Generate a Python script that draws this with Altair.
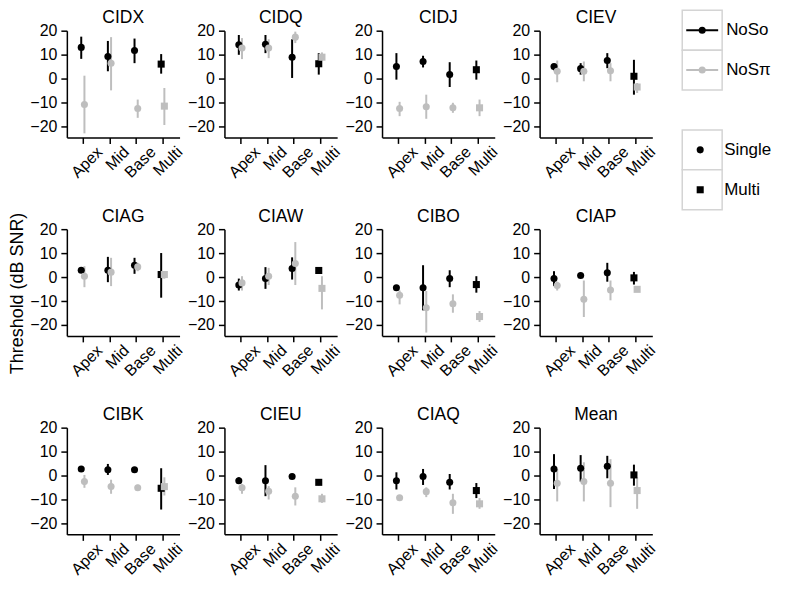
import altair as alt
import pandas as pd

panels = ["CIDX", "CIDQ", "CIDJ", "CIEV", "CIAG", "CIAW", "CIBO", "CIAP",
          "CIBK", "CIEU", "CIAQ", "Mean"]
categories = ["Apex", "Mid", "Base", "Multi"]
series = ["NoSo", "NoSπ"]
type_names = ["Single", "Multi"]
types = ["Single", "Single", "Single", "Multi"]

noso_mean = [[13.1, 9.3, 11.8, 6.1], [14.2, 14.4, 9.0, 6.25], [5.1, 7.2, 1.7, 3.75],
             [5.1, 4.2, 7.6, 1.0], [2.9, 2.9, 5.0, 1.1], [-3.3, -0.6, 3.6, 2.8],
             [-4.4, -4.4, -0.6, -3.1], [-0.6, 0.7, 1.8, -0.3], [2.8, 2.5, 2.5, -5.3],
             [-2.1, -2.1, -0.4, -2.8], [-2.1, -0.4, -2.8, -6.25], [2.8, 3.1, 3.9, 0.3]]
noso_lo = [[8.3, 3.1, 6.5, 2.1], [10.0, 10.7, 0.3, 1.7], [-0.4, 4.7, -3.5, -0.4],
           [3.5, 1.7, 4.4, -6.7], [1.8, -2.1, 1.4, -8.6], [-5.6, -4.9, -1.0, 1.8],
           [-5.6, -13.9, -4.2, -6.5], [-3.75, -0.3, -1.9, -3.1], [1.8, 0.3, 1.5, -14.2],
           [-3.5, -8.6, -1.4, -4.0], [-5.8, -3.9, -5.8, -9.4], [-5.6, -2.5, -1.1, -4.2]]
noso_hi = [[17.6, 15.8, 16.8, 10.3], [18.3, 18.3, 16.5, 10.7], [10.7, 9.6, 6.9, 7.6],
           [5.8, 6.5, 10.7, 7.9], [3.9, 8.5, 8.1, 10.1], [-0.6, 4.2, 8.3, 3.9],
           [-3.3, 5.0, 2.9, 0.4], [2.5, 1.7, 6.0, 2.2], [3.8, 4.9, 3.5, 3.1],
           [-0.7, 4.4, 0.6, -1.6], [1.4, 2.8, 0.7, -3.1], [9.0, 8.6, 8.3, 4.6]]

nospi_mean = [[-10.8, 6.5, -12.5, -11.5], [12.8, 12.8, 17.4, 9.0], [-12.5, -11.8, -12.2, -12.2],
              [3.1, 3.1, 3.3, -3.5], [0.4, 2.1, 4.3, 1.1], [-2.4, 0.4, 5.7, -4.7],
              [-7.6, -12.8, -11.1, -16.5], [-3.5, -9.3, -5.4, -5.1], [-2.5, -4.6, -5.1, -4.6],
              [-5.1, -6.5, -8.6, -9.7], [-9.3, -6.7, -11.4, -11.8], [-3.2, -2.5, -3.2, -6.25]]
nospi_lo = [[-22.9, -4.9, -16.4, -19.4], [8.2, 8.6, 14.9, 7.5], [-15.7, -16.8, -14.3, -15.7],
            [-1.5, -1.1, -1.1, -6.0], [-4.2, -3.75, 2.5, -0.6], [-5.6, -3.3, -3.3, -13.5],
            [-11.4, -23.2, -14.9, -18.75], [-5.6, -16.7, -9.7, -6.0], [-5.1, -7.6, -6.4, -8.3],
            [-7.6, -10.0, -12.5, -11.4], [-10.3, -9.0, -16.0, -13.9], [-10.8, -10.8, -13.2, -13.9]]
nospi_hi = [[1.25, 17.4, -8.75, -3.9], [17.0, 16.5, 19.7, 11.0], [-9.7, -6.7, -10.1, -8.75],
            [7.6, 7.2, 6.5, -1.8], [4.6, 8.1, 6.0, 2.5], [0.4, 3.9, 14.7, 0.4],
            [-5.6, -5.8, -7.2, -14.2], [-1.9, -1.4, -1.4, -4.2], [0.3, -1.7, -3.8, -0.7],
            [-3.5, -4.4, -4.9, -7.6], [-8.3, -4.9, -7.6, -9.4], [2.8, 5.6, 6.9, -0.7]]

rows = []
for s, (m_all, l_all, h_all) in zip(series, [(noso_mean, noso_lo, noso_hi),
                                              (nospi_mean, nospi_lo, nospi_hi)]):
    for p, m, l, h in zip(panels, m_all, l_all, h_all):
        for i, c in enumerate(categories):
            rows.append({"panel": p, "cat": c, "idx": i, "series": s,
                         "type": types[i], "mean": m[i], "lo": l[i], "hi": h[i]})
df = pd.DataFrame(rows)

FONT = "Liberation Sans"
GRAY = "#bebebe"
BOX = "#d4d4d4"

axis_style = dict(grid=False, domainColor="black", domainWidth=1.5, tickColor="black",
                  tickWidth=1.5, tickSize=6, labelColor="black", labelFont=FONT,
                  title=None)

x_enc = alt.X("pos:Q",
              scale=alt.Scale(domain=[-0.6, 3.63], nice=False, zero=False),
              axis=alt.Axis(values=[0, 1, 2, 3],
                            labelExpr="['Apex','Mid','Base','Multi'][datum.value]",
                            labelAngle=315, labelAlign="right", labelBaseline="top",
                            labelOffset=11, labelPadding=0, labelFontSize=16,
                            labelOverlap=False, labelBound=False, **axis_style))
y_scale = alt.Scale(domain=[-24.6, 20.1], nice=False, zero=False)
y_axis = alt.Axis(values=[-20, -10, 0, 10, 20], labelOverlap=False, labelFontSize=16,
                  labelPadding=4,
                  labelExpr="datum.value < 0 ? '\u2212' + abs(datum.value) : '' + datum.value",
                  **axis_style)
color_scale = alt.Scale(domain=series, range=["black", GRAY])
shape_scale = alt.Scale(domain=type_names, range=["circle", "square"])

base = alt.Chart().transform_calculate(
    pos="datum.idx + (datum.series == 'NoSo' ? -0.06 : 0.06)"
)

rules = base.mark_rule(strokeWidth=2).encode(
    x=x_enc,
    y=alt.Y("lo:Q", scale=y_scale, axis=y_axis),
    y2="hi:Q",
    color=alt.Color("series:N", scale=color_scale, sort=series, legend=None),
)

points = base.mark_point(filled=True, opacity=1, size=50).encode(
    x=x_enc,
    y=alt.Y("mean:Q", scale=y_scale, axis=y_axis),
    color=alt.Color("series:N", scale=color_scale, sort=series, legend=None),
    shape=alt.Shape("type:N", scale=shape_scale, legend=None),
)

grid = alt.layer(rules, points, data=df).properties(
    width=113, height=107
).facet(
    facet=alt.Facet("panel:N", sort=panels,
                    header=alt.Header(title=None, labelFontSize=17.5, labelFont=FONT,
                                      labelColor="black", labelPadding=-4)),
    columns=4,
    spacing={"row": 92, "column": 45},
    bounds="flush",
).resolve_axis(
    x="independent", y="independent"
)

# ---- hand-built legends (ggplot-style key boxes) ----
leg_series = pd.DataFrame({"label": series})
leg_types = pd.DataFrame({"label": type_names})
LEG_RANGE = [-20.5, 59.5]

ly1 = alt.Y("label:N", sort=series, axis=None,
            scale=alt.Scale(paddingInner=0, paddingOuter=0, range=LEG_RANGE))
box1 = alt.Chart(leg_series).mark_rect(fill="white", stroke=BOX, strokeWidth=1.5).encode(
    x=alt.value(0), x2=alt.value(40), y=ly1)
line1 = alt.Chart(leg_series).mark_rule(strokeWidth=2).encode(
    x=alt.value(4), x2=alt.value(36), y=ly1,
    color=alt.Color("label:N", scale=color_scale, legend=None))
pt1 = alt.Chart(leg_series).mark_point(filled=True, opacity=1, size=50).encode(
    x=alt.value(20), y=ly1,
    color=alt.Color("label:N", scale=color_scale, legend=None))
txt1 = alt.Chart(leg_series).mark_text(align="left", fontSize=17, font=FONT,
                                       color="black").encode(
    x=alt.value(44), y=ly1, text="label:N")
legend1 = alt.layer(box1, line1, pt1, txt1).properties(width=95, height=80)

ly2 = alt.Y("label:N", sort=type_names, axis=None,
            scale=alt.Scale(paddingInner=0, paddingOuter=0, range=LEG_RANGE))
box2 = alt.Chart(leg_types).mark_rect(fill="white", stroke=BOX, strokeWidth=1.5).encode(
    x=alt.value(0), x2=alt.value(40), y=ly2)
pt2 = alt.Chart(leg_types).mark_point(filled=True, opacity=1, size=50, color="black").encode(
    x=alt.value(18), y=ly2,
    shape=alt.Shape("label:N", scale=shape_scale, legend=None))
txt2 = alt.Chart(leg_types).mark_text(align="left", fontSize=17, font=FONT,
                                      color="black").encode(
    x=alt.value(42), y=ly2, text="label:N")
legend2 = alt.layer(box2, pt2, txt2).properties(width=95, height=80)

legends = alt.vconcat(legend1, legend2, spacing=40, bounds="flush")

chart = alt.hconcat(grid, legends, spacing=23).properties(
    title=alt.TitleParams("Threshold (dB SNR)", orient="left", anchor="middle",
                          fontSize=18, fontWeight="normal", font=FONT, color="black",
                          offset=3),
    padding={"left": 0, "top": 0, "right": 0, "bottom": 0},
).configure(
    font=FONT
).configure_view(
    stroke=None
)

chart.save("out.html", embed_options={"renderer": "svg", "actions": False})
